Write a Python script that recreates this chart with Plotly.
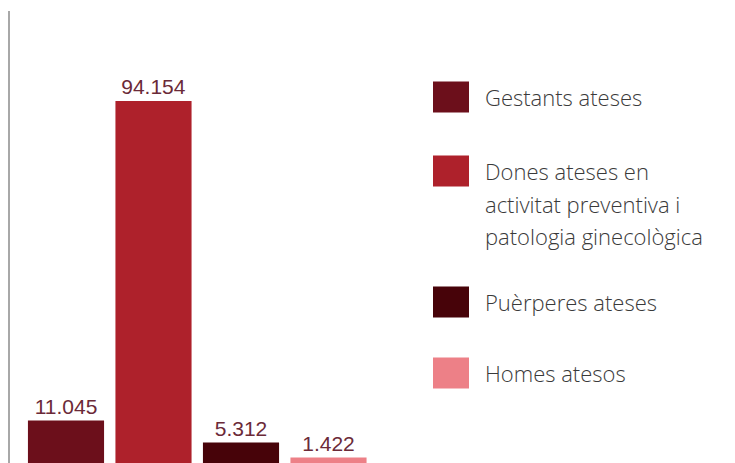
import plotly.graph_objects as go

categories = ["Gestants ateses", "Dones ateses", "Puèrperes ateses", "Homes atesos"]
values = [11045, 94154, 5312, 1422]
legend_labels = [
    "Gestants ateses",
    "Dones ateses en<br>activitat preventiva i<br>patologia ginecològica",
    "Puèrperes ateses",
    "Homes atesos",
]
colors = ["#6c0f1b", "#ae212b", "#470309", "#ed8087"]

# page adds an 8px body margin, so the figure is drawn 8px in and down
OFF = 8
W, H = 735 - OFF, 463 - OFF
L, R, T, B = 10 - OFF, 380 - OFF, 11 - OFF, 463 - OFF


def px_x(px):
    return (px - OFF - L) / (R - L)


def px_y(py):
    return (B - (py - OFF)) / (B - T)


fig = go.Figure(
    go.Bar(
        x=list(range(len(values))),
        y=values,
        marker=dict(color=colors, line=dict(width=0)),
        texttemplate="%{y:,}",
        textposition="outside",
        textfont=dict(family="Liberation Sans, Arial, sans-serif", size=21, color="#6b2a38"),
        cliponaxis=False,
        hoverinfo="skip",
    )
)

# custom legend: big squares + wrapped labels
legend_y = [97, 171, 302, 373]
for label, color, cy in zip(legend_labels, colors, legend_y):
    fig.add_shape(
        type="rect", xref="paper", yref="paper",
        x0=px_x(433), x1=px_x(469), y0=px_y(cy - 15.5), y1=px_y(cy + 15.5),
        fillcolor=color, line=dict(width=0),
    )
    for i, line in enumerate(label.split("<br>")):
        fig.add_annotation(
            xref="paper", yref="paper", x=px_x(483), y=px_y(cy + i * 32.5),
            xanchor="left", yanchor="middle", showarrow=False, text=line,
            font=dict(family="Open Sans, sans-serif", size=22, color="#3a3a3a", weight=300),
        )

fig.update_layout(
    width=W, height=H,
    margin=dict(l=L, r=W - R, t=T, b=H - B, pad=0),
    paper_bgcolor="white", plot_bgcolor="white",
    separators=",.",
    bargap=0.13,
    showlegend=False,
    xaxis=dict(range=[-0.64, -0.64 + (R - L) / 87.5], visible=False, fixedrange=True),
    yaxis=dict(
        range=[0, 94154 * (B - T) / 362], showgrid=False, zeroline=False,
        showticklabels=False, ticks="", showline=True, linecolor="#a8a8a8", linewidth=2,
        fixedrange=True,
    ),
)

fig.write_html("out.html")
